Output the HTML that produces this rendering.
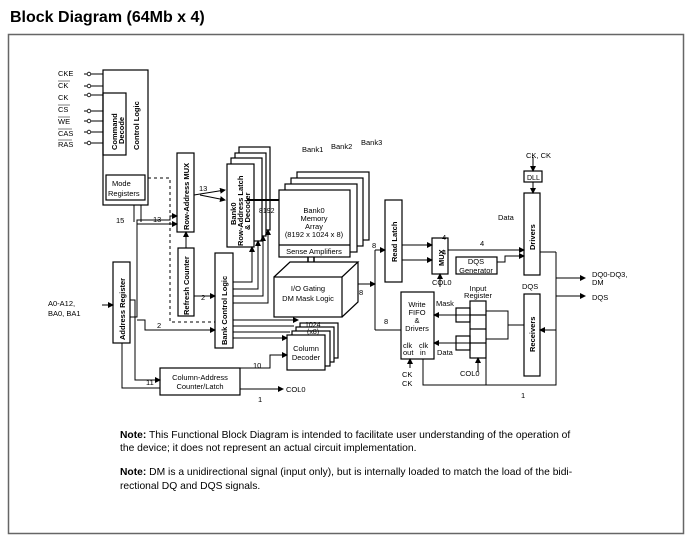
<!DOCTYPE html>
<html><head><meta charset="utf-8"><style>
html,body{margin:0;padding:0;background:#fff;}
svg{display:block;font-family:"Liberation Sans",Arial,sans-serif;}
text{fill:#000;}
</style></head><body>
<svg width="700" height="543" viewBox="0 0 700 543" xmlns="http://www.w3.org/2000/svg">
<defs>
<marker id="a" markerWidth="6" markerHeight="6" refX="5" refY="3" orient="auto" markerUnits="userSpaceOnUse"><path d="M0,0 L6,3 L0,6 z" fill="#000"/></marker>
</defs>
<text x="10" y="22" font-size="16" font-weight="bold">Block Diagram (64Mb x 4)</text>
<rect x="8.5" y="34.5" width="675" height="499" fill="none" stroke="#666" stroke-width="1.5"/>
<g stroke="#000" fill="none" stroke-width="1.2">
<rect x="103" y="70" width="45" height="135" fill="#fff"/>
<rect x="103" y="93" width="23" height="62"/>
<rect x="106" y="175" width="39" height="25"/>
<g stroke-width="1">
<line x1="84" y1="74" x2="103" y2="74"/><line x1="84" y1="86" x2="103" y2="86"/><line x1="84" y1="95" x2="103" y2="95"/>
<line x1="84" y1="111" x2="103" y2="111"/><line x1="84" y1="121" x2="103" y2="121"/><line x1="84" y1="132" x2="103" y2="132"/><line x1="84" y1="143" x2="103" y2="143"/>
</g>
<g fill="#fff" stroke-width="0.8">
<circle cx="89" cy="74" r="1.8"/><circle cx="89" cy="86" r="1.8"/><circle cx="89" cy="95" r="1.8"/><circle cx="89" cy="111" r="1.8"/><circle cx="89" cy="121" r="1.8"/><circle cx="89" cy="132" r="1.8"/><circle cx="89" cy="143" r="1.8"/>
</g>
<path d="M148,178 H170 V322 H215" stroke-dasharray="3,3" stroke-width="1"/>
<rect x="177" y="153" width="17" height="79"/>
<rect x="239" y="147" width="31" height="83" fill="#fff"/>
<rect x="235" y="153" width="31" height="83" fill="#fff"/>
<rect x="231" y="158" width="31" height="83" fill="#fff"/>
<rect x="227" y="164" width="27" height="83" fill="#fff"/>
<rect x="297" y="172" width="72" height="68" fill="#fff"/>
<rect x="291" y="178" width="72" height="68" fill="#fff"/>
<rect x="285" y="184" width="72" height="68" fill="#fff"/>
<rect x="279" y="190" width="71" height="67" fill="#fff"/>
<line x1="279" y1="245" x2="350" y2="245"/>
<rect x="178" y="248" width="16" height="68"/>
<rect x="215" y="253" width="18" height="95"/>
<rect x="113" y="262" width="17" height="81"/>
<path d="M274,277 L290,262 H358 L342,277 M358,262 V302 L342,317"/>
<rect x="274" y="277" width="68" height="40" fill="#fff"/>
<rect x="300" y="323" width="38" height="35" fill="#fff"/>
<rect x="296" y="327" width="38" height="35" fill="#fff"/>
<rect x="292" y="331" width="38" height="35" fill="#fff"/>
<rect x="287" y="335" width="38" height="35" fill="#fff"/>
<rect x="160" y="368" width="80" height="27"/>
<rect x="385" y="200" width="17" height="82"/>
<rect x="432" y="238" width="16" height="36"/>
<rect x="456" y="257" width="41" height="17"/>
<rect x="524" y="171" width="18" height="11"/>
<rect x="524" y="193" width="16" height="82"/>
<rect x="524" y="294" width="16" height="82"/>
<rect x="401" y="292" width="33" height="67"/>
<rect x="470" y="301" width="16" height="57"/>
<line x1="470" y1="315" x2="486" y2="315"/><line x1="470" y1="329" x2="486" y2="329"/><line x1="470" y1="343" x2="486" y2="343"/>
<rect x="456" y="308" width="14" height="14"/><rect x="456" y="336" width="14" height="14"/>
<g stroke-width="1">
<line x1="134" y1="205" x2="134" y2="222"/><line x1="141" y1="205" x2="141" y2="222"/>
<path d="M130,317 H137 V220 H170 V216 H177" marker-end="url(#a)"/>
<path d="M137,224 H177" marker-end="url(#a)"/>
<path d="M194,195 L225,190" marker-end="url(#a)"/><path d="M200,195 L225,200" marker-end="url(#a)"/>
<path d="M186,248 V232" marker-end="url(#a)"/>
<path d="M194,296 H215" marker-end="url(#a)"/>
<path d="M137,320 H145 V330 H215" marker-end="url(#a)"/>
<path d="M130,300 H135 V380 H160" marker-end="url(#a)"/>
<path d="M122,343 V388 H160"/>
<path d="M102,305 H113" marker-end="url(#a)"/>
<path d="M233,282 H252 V247" marker-end="url(#a)"/>
<path d="M233,289 H258 V241" marker-end="url(#a)"/>
<path d="M233,296 H263 V236" marker-end="url(#a)"/>
<path d="M233,303 H268 V230" marker-end="url(#a)"/>
<path d="M233,320 H298" marker-end="url(#a)"/><path d="M233,326 H294"/><path d="M233,332 H290"/><path d="M233,338 H287" marker-end="url(#a)"/>
<path d="M247,200 H279" stroke-width="2"/>
<path d="M308,262 V257 M314,262 V257" stroke-width="1.5"/>
<path d="M240,368 H270 V355 H287" marker-end="url(#a)"/>
<path d="M240,389 H283" marker-end="url(#a)"/>
<path d="M358,284 H375" marker-end="url(#a)"/>
<path d="M375,250 V330"/>
<path d="M375,250 H385" marker-end="url(#a)"/>
<path d="M401,330 H375"/>
<path d="M402,245 H432" marker-end="url(#a)"/><path d="M402,260 H432" marker-end="url(#a)"/>
<path d="M440,287 V274" marker-end="url(#a)"/>
<path d="M448,250 H524" marker-end="url(#a)"/>
<path d="M497,262 H505 V256 H524" marker-end="url(#a)"/>
<path d="M533,157 V171" marker-end="url(#a)"/>
<path d="M533,182 V193" marker-end="url(#a)"/>
<path d="M540,252 H556"/><path d="M556,252 V385 H423 V359"/>
<path d="M556,330 H540" marker-end="url(#a)"/>
<path d="M556,278 H585" marker-end="url(#a)"/><path d="M556,296 H585" marker-end="url(#a)"/>
<path d="M524,325 H508 V311 H486 M508,325 V339 H486"/>
<path d="M470,315 H434" marker-end="url(#a)"/><path d="M470,343 H434" marker-end="url(#a)"/>
<path d="M478,372 V358" marker-end="url(#a)"/>
<path d="M410,368 V359" marker-end="url(#a)"/>
<path d="M486,385 V358"/>
</g>
</g>
<g font-size="7.5">
<text x="58" y="76">CKE</text><text x="58" y="88">CK</text><text x="58" y="100">CK</text><text x="58" y="112">CS</text><text x="58" y="124">WE</text><text x="58" y="136">CAS</text><text x="58" y="147">RAS</text>
<path d="M58,81 H70 M58,105 H70 M58,117 H70 M58,129 H72 M58,140 H72" stroke="#000" stroke-width="0.6"/>
<text x="112" y="186">Mode</text><text x="108" y="196">Registers</text>
<text x="116" y="223">15</text><text x="153" y="222">13</text><text x="199" y="191">13</text>
<text x="259" y="213" font-size="7">8192</text>
<text x="302" y="152">Bank1</text><text x="331" y="149">Bank2</text><text x="361" y="145">Bank3</text>
<text x="314" y="213" text-anchor="middle">Bank0</text><text x="314" y="221" text-anchor="middle">Memory</text><text x="314" y="229" text-anchor="middle">Array</text><text x="314" y="237" text-anchor="middle">(8192 x 1024 x 8)</text>
<text x="314" y="254" text-anchor="middle">Sense Amplifiers</text>
<text x="308" y="291" text-anchor="middle">I/O Gating</text><text x="308" y="301" text-anchor="middle">DM Mask Logic</text>
<text x="305" y="327" font-size="7">1024</text><text x="307" y="334" font-size="7">(x8)</text>
<text x="306" y="351" text-anchor="middle">Column</text><text x="306" y="360" text-anchor="middle">Decoder</text>
<text x="200" y="380" text-anchor="middle">Column-Address</text><text x="200" y="389" text-anchor="middle">Counter/Latch</text>
<text x="286" y="392">COL0</text>
<text x="48" y="306">A0-A12,</text><text x="48" y="316">BA0, BA1</text>
<text x="201" y="300">2</text><text x="157" y="328">2</text><text x="146" y="385">11</text><text x="253" y="368">10</text><text x="258" y="402">1</text>
<text x="372" y="248">8</text><text x="359" y="295">8</text><text x="384" y="324">8</text>
<text x="442" y="240">4</text><text x="442" y="255">4</text><text x="480" y="246">4</text>
<text x="432" y="285">COL0</text>
<text x="498" y="220">Data</text>
<text x="476" y="264" text-anchor="middle">DQS</text><text x="476" y="273" text-anchor="middle">Generator</text>
<text x="526" y="158">CK, CK</text><text x="527" y="180" font-size="7">DLL</text>
<text x="522" y="289">DQS</text>
<text x="592" y="277">DQ0-DQ3,</text><text x="592" y="285">DM</text><text x="592" y="300">DQS</text>
<text x="417" y="307" text-anchor="middle">Write</text><text x="417" y="315" text-anchor="middle">FIFO</text><text x="417" y="323" text-anchor="middle">&amp;</text><text x="417" y="331" text-anchor="middle">Drivers</text>
<text x="403" y="348">clk</text><text x="419" y="348">clk</text><text x="403" y="355">out</text><text x="420" y="355">in</text>
<text x="436" y="306">Mask</text><text x="437" y="355">Data</text>
<text x="478" y="291" text-anchor="middle">Input</text><text x="478" y="298" text-anchor="middle">Register</text>
<text x="460" y="376">COL0</text>
<text x="402" y="377">CK</text><text x="402" y="386">CK</text>
<text x="521" y="398">1</text>
</g>
<g font-size="7.5" font-weight="bold">
<text transform="translate(117,150) rotate(-90)">Command</text><text transform="translate(124,144) rotate(-90)">Decode</text>
<text transform="translate(139,150) rotate(-90)">Control Logic</text>
<text transform="translate(189,230) rotate(-90)">Row-Address MUX</text>
<text transform="translate(189,315) rotate(-90)">Refresh Counter</text>
<text transform="translate(227,345) rotate(-90)">Bank Control Logic</text>
<text transform="translate(125,340) rotate(-90)">Address Register</text>
<text transform="translate(236,225) rotate(-90)">Bank0</text><text transform="translate(243,246) rotate(-90)">Row-Address Latch</text><text transform="translate(250,230) rotate(-90)">&amp; Decoder</text>
<text transform="translate(397,262) rotate(-90)">Read Latch</text>
<text transform="translate(444,266) rotate(-90)">MUX</text>
<text transform="translate(535,250) rotate(-90)">Drivers</text>
<text transform="translate(535,352) rotate(-90)">Receivers</text>
</g>
<g font-size="10.3">
<text x="120" y="438"><tspan font-weight="bold">Note:</tspan>  This Functional Block Diagram is intended to facilitate user understanding of the operation of</text>
<text x="120" y="451">the device; it does not represent an actual circuit implementation.</text>
<text x="120" y="475"><tspan font-weight="bold">Note:</tspan>  DM is a unidirectional signal (input only), but is internally loaded to match the load of the bidi-</text>
<text x="120" y="489">rectional DQ and DQS signals.</text>
</g>
</svg>
</body></html>
